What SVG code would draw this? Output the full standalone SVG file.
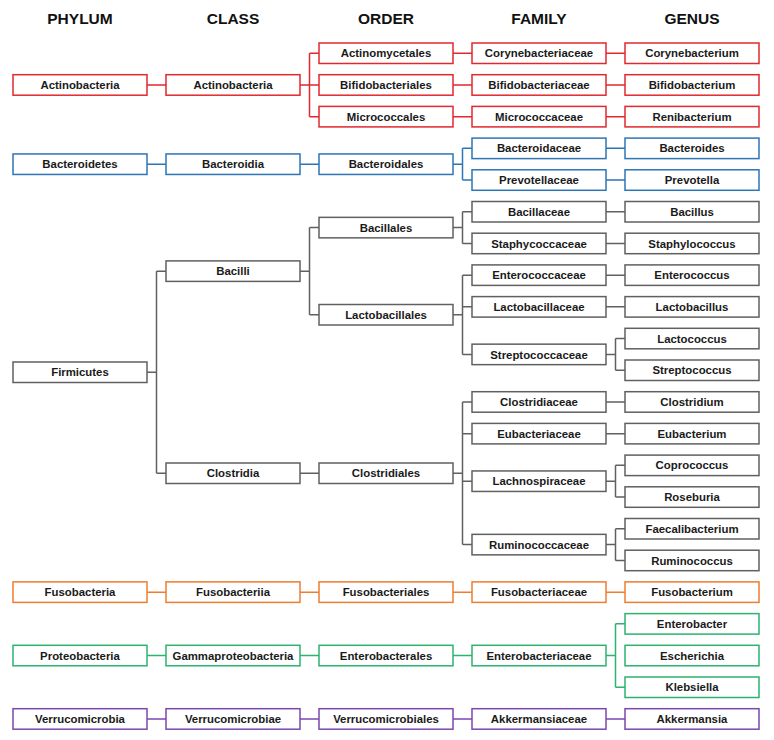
<svg xmlns="http://www.w3.org/2000/svg" width="774" height="740" viewBox="0 0 774 740">
<style>
.bg{fill:#ffffff}
.h{font-family:"Liberation Sans",Arial,sans-serif;font-weight:bold;font-size:15.5px;fill:#111;text-anchor:middle}
.n rect{fill:#fff;stroke-width:1.5}
.n text{font-family:"Liberation Sans",Arial,sans-serif;font-weight:bold;font-size:11.4px;fill:#1a1a1a;text-anchor:middle}
.red rect{stroke:#e0282e}
.blue rect{stroke:#2e75b6}
.gray rect{stroke:#606060}
.orange rect{stroke:#ed7d31}
.green rect{stroke:#2db370}
.purple rect{stroke:#7b48b0}
.c path{fill:none;stroke-width:1.5}
.c .red{stroke:#e0282e}
.c .blue{stroke:#2e75b6}
.c .gray{stroke:#606060}
.c .orange{stroke:#ed7d31}
.c .green{stroke:#2db370}
.c .purple{stroke:#7b48b0}
</style>
<rect class="bg" x="0" y="0" width="774" height="740"/>
<g id="headings">
<text class="h" x="80" y="24">PHYLUM</text>
<text class="h" x="233" y="24">CLASS</text>
<text class="h" x="386" y="24">ORDER</text>
<text class="h" x="539" y="24">FAMILY</text>
<text class="h" x="692" y="24">GENUS</text>
</g>
<g id="connectors" class="c">
<path class="red" d="M147 84.95H166M300 84.95H309.5M309.5 53.25V116.65M309.5 53.25H319M309.5 84.95H319M309.5 116.65H319M453 53.25H472M453 84.95H472M453 116.65H472M606 53.25H625M606 84.95H625M606 116.65H625"/>
<path class="blue" d="M147 164.2H166M300 164.2H319M453 164.2H462.5M462.5 148.35V180.05M462.5 148.35H472M462.5 180.05H472M606 148.35H625M606 180.05H625"/>
<path class="gray" d="M147 372.2H156.5M156.5 271.2V473.3M156.5 271.2H166M156.5 473.3H166M300 271.2H309.5M309.5 227.6V314.8M309.5 227.6H319M309.5 314.8H319M300 473.3H319M453 227.6H462.5M462.5 211.75V243.45M462.5 211.75H472M462.5 243.45H472M453 314.8H462.5M462.5 275.15V354.4M462.5 275.15H472M462.5 306.85H472M462.5 354.4H472M453 473.3H462.5M462.5 401.95V544.6M462.5 401.95H472M462.5 433.65H472M462.5 481.2H472M462.5 544.6H472M606 211.75H625M606 243.45H625M606 275.15H625M606 306.85H625M606 354.4H615.5M615.5 338.55V370.25M615.5 338.55H625M615.5 370.25H625M606 401.95H625M606 433.65H625M606 481.2H615.5M615.5 465.35V497.05M615.5 465.35H625M615.5 497.05H625M606 544.6H615.5M615.5 528.75V560.45M615.5 528.75H625M615.5 560.45H625"/>
<path class="orange" d="M147 592.15H166M300 592.15H319M453 592.15H472M606 592.15H625"/>
<path class="green" d="M147 655.55H166M300 655.55H319M453 655.55H472M606 655.55H615.5M615.5 623.85V687.25M615.5 623.85H625M615.5 687.25H625"/>
<path class="purple" d="M147 718.95H166M300 718.95H319M453 718.95H472M606 718.95H625"/>
</g>
<g id="phylum-actinobacteria" class="n red" transform="translate(13,74.7)"><rect width="134" height="20.5"/><text x="67" y="14.4">Actinobacteria</text></g>
<g id="class-actinobacteria" class="n red" transform="translate(166,74.7)"><rect width="134" height="20.5"/><text x="67" y="14.4">Actinobacteria</text></g>
<g id="order-actinomycetales" class="n red" transform="translate(319,43)"><rect width="134" height="20.5"/><text x="67" y="14.4">Actinomycetales</text></g>
<g id="order-bifidobacteriales" class="n red" transform="translate(319,74.7)"><rect width="134" height="20.5"/><text x="67" y="14.4">Bifidobacteriales</text></g>
<g id="order-micrococcales" class="n red" transform="translate(319,106.4)"><rect width="134" height="20.5"/><text x="67" y="14.4">Micrococcales</text></g>
<g id="family-corynebacteriaceae" class="n red" transform="translate(472,43)"><rect width="134" height="20.5"/><text x="67" y="14.4">Corynebacteriaceae</text></g>
<g id="family-bifidobacteriaceae" class="n red" transform="translate(472,74.7)"><rect width="134" height="20.5"/><text x="67" y="14.4">Bifidobacteriaceae</text></g>
<g id="family-micrococcaceae" class="n red" transform="translate(472,106.4)"><rect width="134" height="20.5"/><text x="67" y="14.4">Micrococcaceae</text></g>
<g id="genus-corynebacterium" class="n red" transform="translate(625,43)"><rect width="134" height="20.5"/><text x="67" y="14.4">Corynebacterium</text></g>
<g id="genus-bifidobacterium" class="n red" transform="translate(625,74.7)"><rect width="134" height="20.5"/><text x="67" y="14.4">Bifidobacterium</text></g>
<g id="genus-renibacterium" class="n red" transform="translate(625,106.4)"><rect width="134" height="20.5"/><text x="67" y="14.4">Renibacterium</text></g>

<g id="phylum-bacteroidetes" class="n blue" transform="translate(13,153.95)"><rect width="134" height="20.5"/><text x="67" y="14.4">Bacteroidetes</text></g>
<g id="class-bacteroidia" class="n blue" transform="translate(166,153.95)"><rect width="134" height="20.5"/><text x="67" y="14.4">Bacteroidia</text></g>
<g id="order-bacteroidales" class="n blue" transform="translate(319,153.95)"><rect width="134" height="20.5"/><text x="67" y="14.4">Bacteroidales</text></g>
<g id="family-bacteroidaceae" class="n blue" transform="translate(472,138.1)"><rect width="134" height="20.5"/><text x="67" y="14.4">Bacteroidaceae</text></g>
<g id="family-prevotellaceae" class="n blue" transform="translate(472,169.8)"><rect width="134" height="20.5"/><text x="67" y="14.4">Prevotellaceae</text></g>
<g id="genus-bacteroides" class="n blue" transform="translate(625,138.1)"><rect width="134" height="20.5"/><text x="67" y="14.4">Bacteroides</text></g>
<g id="genus-prevotella" class="n blue" transform="translate(625,169.8)"><rect width="134" height="20.5"/><text x="67" y="14.4">Prevotella</text></g>

<g id="phylum-firmicutes" class="n gray" transform="translate(13,362)"><rect width="134" height="20.5"/><text x="67" y="14.4">Firmicutes</text></g>
<g id="class-bacilli" class="n gray" transform="translate(166,260.9)"><rect width="134" height="20.5"/><text x="67" y="14.4">Bacilli</text></g>
<g id="class-clostridia" class="n gray" transform="translate(166,463)"><rect width="134" height="20.5"/><text x="67" y="14.4">Clostridia</text></g>
<g id="order-bacillales" class="n gray" transform="translate(319,217.35)"><rect width="134" height="20.5"/><text x="67" y="14.4">Bacillales</text></g>
<g id="order-lactobacillales" class="n gray" transform="translate(319,304.5)"><rect width="134" height="20.5"/><text x="67" y="14.4">Lactobacillales</text></g>
<g id="order-clostridiales" class="n gray" transform="translate(319,463)"><rect width="134" height="20.5"/><text x="67" y="14.4">Clostridiales</text></g>
<g id="family-bacillaceae" class="n gray" transform="translate(472,201.5)"><rect width="134" height="20.5"/><text x="67" y="14.4">Bacillaceae</text></g>
<g id="family-staphycoccaceae" class="n gray" transform="translate(472,233.2)"><rect width="134" height="20.5"/><text x="67" y="14.4">Staphycoccaceae</text></g>
<g id="family-enterococcaceae" class="n gray" transform="translate(472,264.9)"><rect width="134" height="20.5"/><text x="67" y="14.4">Enterococcaceae</text></g>
<g id="family-lactobacillaceae" class="n gray" transform="translate(472,296.6)"><rect width="134" height="20.5"/><text x="67" y="14.4">Lactobacillaceae</text></g>
<g id="family-streptococcaceae" class="n gray" transform="translate(472,344.15)"><rect width="134" height="20.5"/><text x="67" y="14.4">Streptococcaceae</text></g>
<g id="family-clostridiaceae" class="n gray" transform="translate(472,391.7)"><rect width="134" height="20.5"/><text x="67" y="14.4">Clostridiaceae</text></g>
<g id="family-eubacteriaceae" class="n gray" transform="translate(472,423.4)"><rect width="134" height="20.5"/><text x="67" y="14.4">Eubacteriaceae</text></g>
<g id="family-lachnospiraceae" class="n gray" transform="translate(472,470.95)"><rect width="134" height="20.5"/><text x="67" y="14.4">Lachnospiraceae</text></g>
<g id="family-ruminococcaceae" class="n gray" transform="translate(472,534.35)"><rect width="134" height="20.5"/><text x="67" y="14.4">Ruminococcaceae</text></g>
<g id="genus-bacillus" class="n gray" transform="translate(625,201.5)"><rect width="134" height="20.5"/><text x="67" y="14.4">Bacillus</text></g>
<g id="genus-staphylococcus" class="n gray" transform="translate(625,233.2)"><rect width="134" height="20.5"/><text x="67" y="14.4">Staphylococcus</text></g>
<g id="genus-enterococcus" class="n gray" transform="translate(625,264.9)"><rect width="134" height="20.5"/><text x="67" y="14.4">Enterococcus</text></g>
<g id="genus-lactobacillus" class="n gray" transform="translate(625,296.6)"><rect width="134" height="20.5"/><text x="67" y="14.4">Lactobacillus</text></g>
<g id="genus-lactococcus" class="n gray" transform="translate(625,328.3)"><rect width="134" height="20.5"/><text x="67" y="14.4">Lactococcus</text></g>
<g id="genus-streptococcus" class="n gray" transform="translate(625,360)"><rect width="134" height="20.5"/><text x="67" y="14.4">Streptococcus</text></g>
<g id="genus-clostridium" class="n gray" transform="translate(625,391.7)"><rect width="134" height="20.5"/><text x="67" y="14.4">Clostridium</text></g>
<g id="genus-eubacterium" class="n gray" transform="translate(625,423.4)"><rect width="134" height="20.5"/><text x="67" y="14.4">Eubacterium</text></g>
<g id="genus-coprococcus" class="n gray" transform="translate(625,455.1)"><rect width="134" height="20.5"/><text x="67" y="14.4">Coprococcus</text></g>
<g id="genus-roseburia" class="n gray" transform="translate(625,486.8)"><rect width="134" height="20.5"/><text x="67" y="14.4">Roseburia</text></g>
<g id="genus-faecalibacterium" class="n gray" transform="translate(625,518.5)"><rect width="134" height="20.5"/><text x="67" y="14.4">Faecalibacterium</text></g>
<g id="genus-ruminococcus" class="n gray" transform="translate(625,550.2)"><rect width="134" height="20.5"/><text x="67" y="14.4">Ruminococcus</text></g>

<g id="phylum-fusobacteria" class="n orange" transform="translate(13,581.9)"><rect width="134" height="20.5"/><text x="67" y="14.4">Fusobacteria</text></g>
<g id="class-fusobacteriia" class="n orange" transform="translate(166,581.9)"><rect width="134" height="20.5"/><text x="67" y="14.4">Fusobacteriia</text></g>
<g id="order-fusobacteriales" class="n orange" transform="translate(319,581.9)"><rect width="134" height="20.5"/><text x="67" y="14.4">Fusobacteriales</text></g>
<g id="family-fusobacteriaceae" class="n orange" transform="translate(472,581.9)"><rect width="134" height="20.5"/><text x="67" y="14.4">Fusobacteriaceae</text></g>
<g id="genus-fusobacterium" class="n orange" transform="translate(625,581.9)"><rect width="134" height="20.5"/><text x="67" y="14.4">Fusobacterium</text></g>

<g id="phylum-proteobacteria" class="n green" transform="translate(13,645.3)"><rect width="134" height="20.5"/><text x="67" y="14.4">Proteobacteria</text></g>
<g id="class-gammaproteobacteria" class="n green" transform="translate(166,645.3)"><rect width="134" height="20.5"/><text x="67" y="14.4">Gammaproteobacteria</text></g>
<g id="order-enterobacterales" class="n green" transform="translate(319,645.3)"><rect width="134" height="20.5"/><text x="67" y="14.4">Enterobacterales</text></g>
<g id="family-enterobacteriaceae" class="n green" transform="translate(472,645.3)"><rect width="134" height="20.5"/><text x="67" y="14.4">Enterobacteriaceae</text></g>
<g id="genus-enterobacter" class="n green" transform="translate(625,613.6)"><rect width="134" height="20.5"/><text x="67" y="14.4">Enterobacter</text></g>
<g id="genus-escherichia" class="n green" transform="translate(625,645.3)"><rect width="134" height="20.5"/><text x="67" y="14.4">Escherichia</text></g>
<g id="genus-klebsiella" class="n green" transform="translate(625,677)"><rect width="134" height="20.5"/><text x="67" y="14.4">Klebsiella</text></g>

<g id="phylum-verrucomicrobia" class="n purple" transform="translate(13,708.7)"><rect width="134" height="20.5"/><text x="67" y="14.4">Verrucomicrobia</text></g>
<g id="class-verrucomicrobiae" class="n purple" transform="translate(166,708.7)"><rect width="134" height="20.5"/><text x="67" y="14.4">Verrucomicrobiae</text></g>
<g id="order-verrucomicrobiales" class="n purple" transform="translate(319,708.7)"><rect width="134" height="20.5"/><text x="67" y="14.4">Verrucomicrobiales</text></g>
<g id="family-akkermansiaceae" class="n purple" transform="translate(472,708.7)"><rect width="134" height="20.5"/><text x="67" y="14.4">Akkermansiaceae</text></g>
<g id="genus-akkermansia" class="n purple" transform="translate(625,708.7)"><rect width="134" height="20.5"/><text x="67" y="14.4">Akkermansia</text></g>
</svg>
